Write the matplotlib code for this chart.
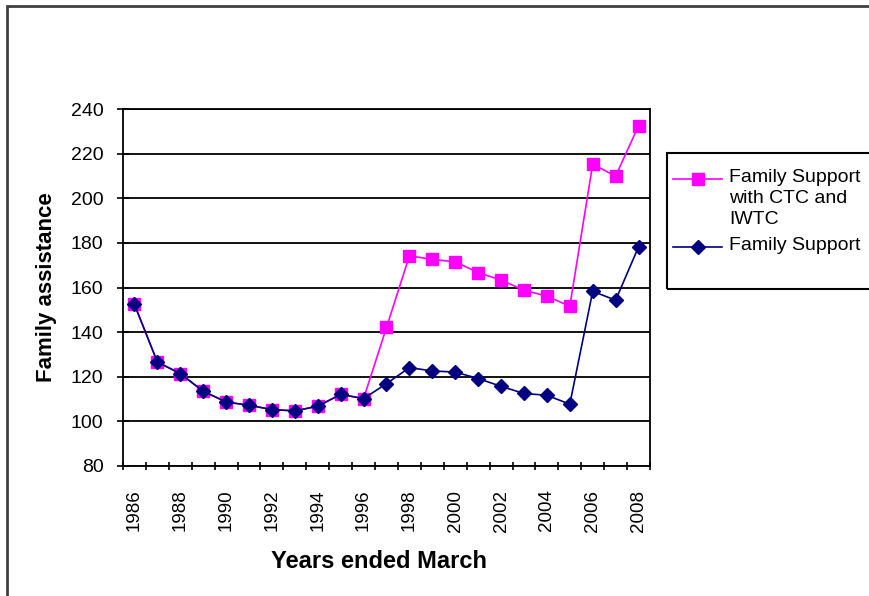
"""
Family assistance by year ended March, with and without CTC/IWTC
"""

import matplotlib
matplotlib.use('Agg')
import matplotlib.pyplot as plt
from matplotlib.patches import Rectangle
from matplotlib.lines import Line2D
import numpy as np

plt.rcParams['font.family'] = ['Liberation Sans', 'DejaVu Sans']

years = list(range(1986, 2009))
family_support_ctc = [152.4, 126.6, 121.4, 113.5, 108.7, 107.2, 105.3, 104.7, 106.8,
                      112.1, 110.2, 142.1, 174.2, 172.6, 171.5, 166.7, 163.3, 158.8,
                      156.1, 151.6, 215.3, 209.9, 232.5]
family_support = [152.4, 126.6, 121.4, 113.5, 108.7, 107.2, 105.3, 104.7, 106.8,
                  112.1, 110.2, 116.9, 124.1, 122.6, 122.1, 119.2, 115.7, 112.5,
                  111.7, 107.7, 158.3, 154.3, 178.2]
y_ticks = list(range(80, 241, 20))

PINK = '#FF00FF'
NAVY = '#000080'

W, H = 870, 596
fig = plt.figure(figsize=(W / 100, H / 100), dpi=100)

# plot area in pixel terms
left, right, top, bottom = 123, 650, 109, 466
ax = fig.add_axes([left / W, 1 - bottom / H, (right - left) / W, (bottom - top) / H])

x = np.arange(len(years))
ax.plot(x, family_support_ctc, color=PINK, lw=1.2, marker='s', ms=9,
        markeredgecolor=PINK, zorder=3)
ax.plot(x, family_support, color=NAVY, lw=1.2, marker='D', ms=7,
        markeredgecolor=NAVY, zorder=4)

ax.set_xlim(-0.5, len(years) - 0.5)
ax.set_ylim(80, 240)
ax.set_yticks(y_ticks)
ax.set_yticklabels([str(v) for v in y_ticks], fontsize=14)
ax.yaxis.grid(True, color='black', lw=1.3)
ax.set_axisbelow(True)

# category labels every other year, tick marks on category boundaries
ax.set_xticks(x[::2])
ax.set_xticklabels([str(y) for y in years[::2]], rotation=90, fontsize=13.5)
ax.set_xticks(np.arange(-0.5, len(years)), minor=True)
ax.tick_params(axis='x', which='major', length=0, pad=17)
ax.tick_params(axis='x', which='minor', length=6, width=1.2, direction='inout')
ax.tick_params(axis='y', length=8, width=1.2, direction='inout', pad=10)

for s in ax.spines.values():
    s.set_linewidth(1.3)
    s.set_color('black')

ax.set_ylabel('Family assistance', fontsize=16, fontweight='bold', labelpad=10)
ax.set_xlabel('Years ended March', fontsize=17, fontweight='bold', labelpad=10)
ax.xaxis.set_label_coords(0.485, -0.235)

# legend box
fig.add_artist(Rectangle((667 / W, 1 - 289 / H), 0.3, (289 - 153) / H,
                         transform=fig.transFigure, fill=False, ec='black', lw=1.5))
entries = [(PINK, 's', 9, 179, 'Family Support\nwith CTC and\nIWTC'),
           (NAVY, 'D', 7, 247, 'Family Support')]
for color, marker, ms, ypx, label in entries:
    yy = 1 - ypx / H
    fig.add_artist(Line2D([673 / W, 698 / W, 722 / W], [yy] * 3, transform=fig.transFigure,
                          color=color, lw=1.2, marker=marker, ms=ms, markevery=[1]))
    fig.text(729 / W, yy + 10 / H, label, fontsize=14, va='top', ha='left', linespacing=1.3)

# chart area border
fig.add_artist(Rectangle((7 / W, -0.1), 1.0, 1 - 6 / H + 0.1, transform=fig.transFigure,
                         fill=False, ec='#404040', lw=2))

fig.savefig('out.png', dpi=100)
